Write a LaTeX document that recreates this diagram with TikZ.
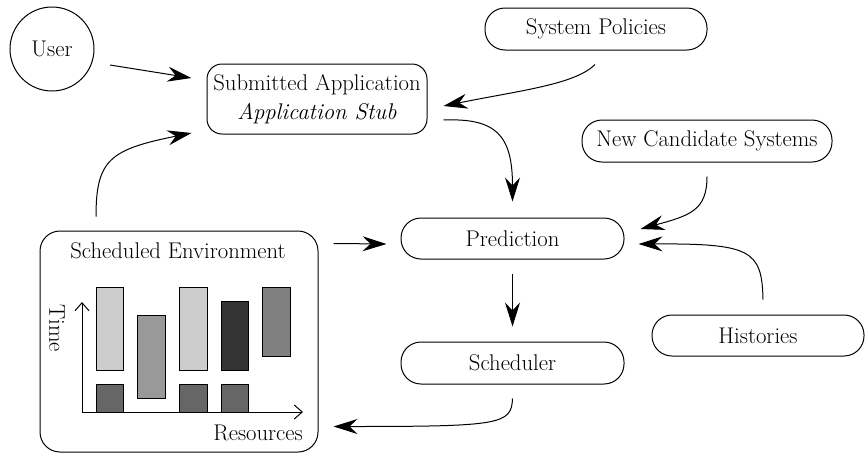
\documentclass[tikz,border=0pt]{standalone}
\usepackage{fontspec}
\usetikzlibrary{arrows.meta,calc}
\definecolor{gA}{HTML}{CCCCCC}
\definecolor{gB}{HTML}{999999}
\definecolor{gC}{HTML}{666666}
\definecolor{gD}{HTML}{333333}
\definecolor{gE}{HTML}{808080}
\begin{document}
\begin{tikzpicture}[x=1pt,y=-1pt,
  every node/.style={font=\rmfamily\fontsize{22.7}{29}\selectfont},
  box/.style={draw, line width=1pt, rounded corners=20pt, inner sep=0pt},
  arr/.style={line width=1pt, -{Stealth[length=24pt,width=15pt,inset=8pt]}},
  axis/.style={line width=1pt, -{Straight Barb[length=8pt,width=14pt]}},
  bar/.style={draw=black, line width=0.9pt},
]
\useasboundingbox (0,0) rectangle (866,453);

% nodes
\node[draw, line width=1pt, circle, minimum size=84pt, inner sep=0pt] (user) at (52,49) {User};
\node[box, rounded corners=15pt, minimum width=220pt, minimum height=70pt, align=center] (sub) at (317,99)
  {Submitted Application\\\textit{Application Stub}};
\node[box, minimum width=222pt, minimum height=42pt] (pol) at (596,29) {System Policies};
\node[box, minimum width=250pt, minimum height=42pt] (ncs) at (707,141) {New Candidate Systems};
\node[box, minimum width=223pt, minimum height=41pt] (pred) at (512.5,238.5) {Prediction};
\node[box, minimum width=223pt, minimum height=42pt] (sched) at (512.5,363) {Scheduler};
\node[box, minimum width=212pt, minimum height=41pt] (hist) at (758,335.5) {Histories};
\node[draw, line width=1pt, rounded corners=20pt, minimum width=278pt, minimum height=221pt, inner sep=0pt] (env) at (179,341.5) {};

% environment contents
\node[anchor=base] (envlbl) at (178,258) {Scheduled Environment};
\draw[bar, fill=gA] (96,287) rectangle (123,370);
\draw[bar, fill=gC] (96,384) rectangle (123,412);
\draw[bar, fill=gB] (137,315) rectangle (165,398);
\draw[bar, fill=gA] (179,287) rectangle (207,370);
\draw[bar, fill=gC] (179,384) rectangle (207,412);
\draw[bar, fill=gD] (221,301) rectangle (248,370);
\draw[bar, fill=gC] (221,384) rectangle (248,412);
\draw[bar, fill=gE] (262,287) rectangle (290,356);
\coordinate (orig) at (82,412);
\coordinate (ytop) at (82,302);
\coordinate (xend) at (303,412);
\draw[axis] (orig) -- (ytop);
\draw[axis] (orig) -- (xend);
\node[rotate=-90] (timelbl) at (57,328) {Time};
\node[anchor=base east, inner sep=0pt] (reslbl) at (303,440) {Resources};

% connectors
\draw[arr] ($(user.center)+(58,16)$) -- ($(sub.west)+(-15,-21)$);
\draw[arr] ($(env.north)+(-83,-14)$) .. controls ($(env.north)+(-83,-71)$) and ($(env.north)+(-69,-81)$) .. ($(sub.west)+(-15,34)$);
\draw[arr] ($(pol.south)+(-1,14)$) .. controls ($(pol.south)+(-21,34)$) and ($(pol.south)+(-76,40)$) .. ($(sub.east)+(16,7)$);
\draw[arr] ($(sub.east)+(16,21)$) .. controls ($(sub.east)+(68,19)$) and ($(pred.north)+(0,-83)$) .. ($(pred.north)+(0,-16)$);
\draw[arr] ($(ncs.south)+(0,14)$) .. controls ($(ncs.south)+(0,48)$) and ($(ncs.south)+(-17,53)$) .. ($(pred.east)+(16,-9.5)$);
\draw[arr] ($(hist.north)+(5,-15)$) .. controls ($(hist.north)+(4,-65)$) and ($(hist.north)+(-8,-71)$) .. ($(pred.east)+(14,5.5)$);
\draw[arr] ($(env.north east)+(15,13)$) -- ($(pred.west)+(-14,5.5)$);
\draw[arr] ($(pred.south)+(0,14)$) -- ($(sched.north)+(0,-15)$);
\draw[arr] ($(sched.south)+(0,14)$) .. controls ($(sched.south)+(-1,40)$) and ($(sched.south)+(-12,42)$) .. ($(env.south east)+(15,-26)$);
\end{tikzpicture}
\end{document}
